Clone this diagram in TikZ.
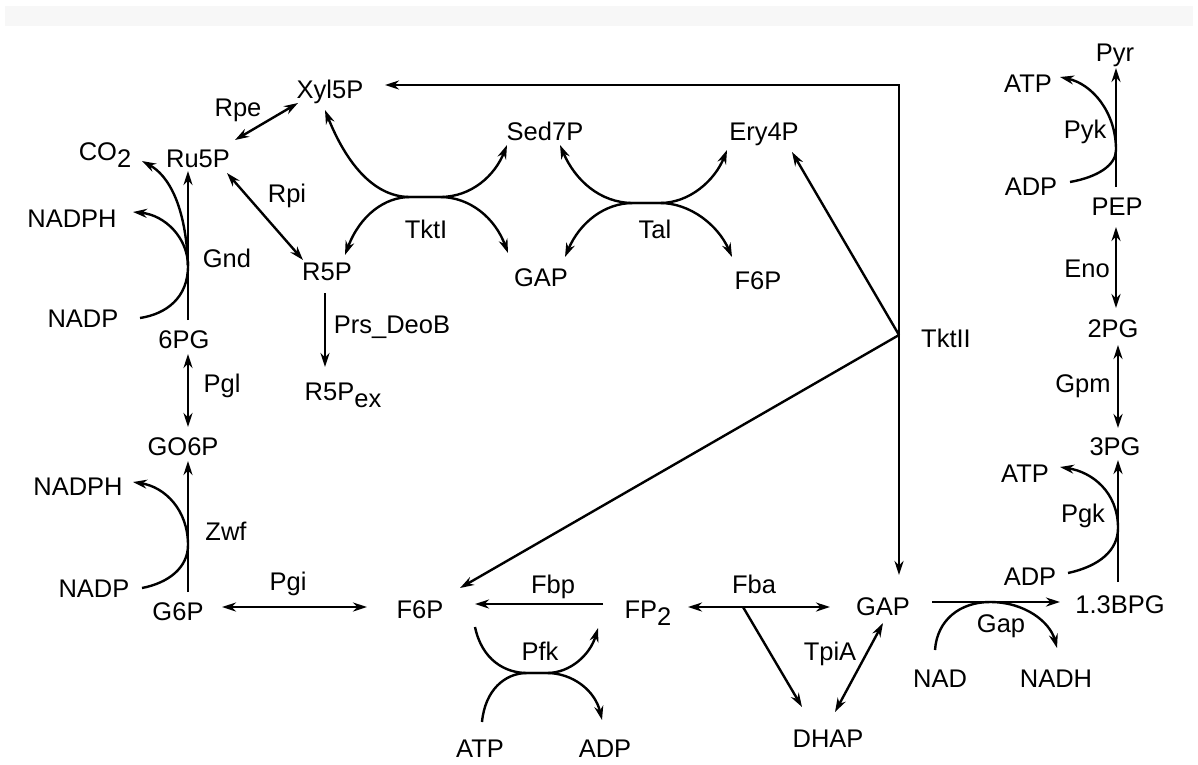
\documentclass[tikz,border=0pt]{standalone}
\usepackage{fontspec}
\setmainfont{Liberation Sans}
\usetikzlibrary{arrows.meta,calc}
\begin{document}
\begin{tikzpicture}[x=1pt,y=-1pt,
  lbl/.style={anchor=base,inner sep=0pt,font=\fontsize{25.5}{30}\selectfont},
  ln/.style={line width=2.4pt},
  ar/.style={ln,-{Stealth[length=14pt,width=9pt]}},
  da/.style={ln,{Stealth[length=14pt,width=9pt]}-{Stealth[length=14pt,width=9pt]}}]
\useasboundingbox (0,0) rectangle (1198,764);
\fill[black!3] (5,6) rectangle (1193,26);
% nodes
\node[lbl] (Xyl5P) at (330,98) {Xyl5P};
\node[lbl] (Sed7P) at (545,140) {Sed7P};
\node[lbl] (Ery4P) at (764,140) {Ery4P};
\node[lbl] (R5P) at (327,280) {R5P};
\node[lbl] (GAPt) at (541,286) {GAP};
\node[lbl] (F6Pt) at (758,289) {F6P};
\node[lbl] (TktI) at (426,238) {TktI};
\node[lbl] (Tal) at (655,238) {Tal};
\node[lbl] (Rpe) at (238,116) {Rpe};
\node[lbl] (Ru5P) at (198,167) {Ru5P};
\node[lbl] (CO2) at (105,160) {CO\raisebox{-7pt}{2}};
\node[lbl] (Rpi) at (287,202) {Rpi};
\node[lbl] (NADPHa) at (72,227) {NADPH};
\node[lbl] (Gnd) at (227,267) {Gnd};
\node[lbl] (NADPa) at (83,327) {NADP};
\node[lbl] (PG6) at (184,348) {6PG};
\node[lbl] (Pgl) at (222,392) {Pgl};
\node[lbl] (R5Pex) at (343,400) {R5P\raisebox{-7pt}{ex}};
\node[lbl] (Prs) at (392,333) {Prs\_DeoB};
\node[lbl] (GO6P) at (183,455) {GO6P};
\node[lbl] (NADPHb) at (78,495) {NADPH};
\node[lbl] (Zwf) at (226,540) {Zwf};
\node[lbl] (NADPb) at (94,597) {NADP};
\node[lbl] (G6P) at (178,620) {G6P};
\node[lbl] (Pgi) at (288,590) {Pgi};
\node[lbl] (F6P) at (420,618) {F6P};
\node[lbl] (Fbp) at (553,593) {Fbp};
\node[lbl] (FP2) at (648,618) {FP\raisebox{-7pt}{2}};
\node[lbl] (Pfk) at (540,660) {Pfk};
\node[lbl] (ATPb) at (480,757) {ATP};
\node[lbl] (ADPb) at (605,757) {ADP};
\node[lbl] (Fba) at (754,593) {Fba};
\node[lbl] (TpiA) at (830,660) {TpiA};
\node[lbl] (DHAP) at (828,747) {DHAP};
\node[lbl] (GAP) at (883,615) {GAP};
\node[lbl] (BPG) at (1120,613) {1.3BPG};
\node[lbl] (Gap) at (1001,632) {Gap};
\node[lbl] (NAD) at (940,687) {NAD};
\node[lbl] (NADH) at (1056,687) {NADH};
\node[lbl] (ADPk) at (1030,585) {ADP};
\node[lbl] (Pgk) at (1083,522) {Pgk};
\node[lbl] (ATPk) at (1025,482) {ATP};
\node[lbl] (PG3) at (1115,455) {3PG};
\node[lbl] (Gpm) at (1083,392) {Gpm};
\node[lbl] (PG2) at (1113,337) {2PG};
\node[lbl] (Eno) at (1087,277) {Eno};
\node[lbl] (PEP) at (1117,215) {PEP};
\node[lbl] (ADPy) at (1031,195) {ADP};
\node[lbl] (Pyk) at (1085,138) {Pyk};
\node[lbl] (ATPy) at (1028,92) {ATP};
\node[lbl] (Pyr) at (1115,61) {Pyr};
\node[lbl] (TktII) at (946,347) {TktII};
% junction coordinates
\coordinate (tkc) at (899,85);
\coordinate (tkj) at (899,335);
\coordinate (fbaj) at (743,607);
\coordinate (gndm) at (188,266);
\coordinate (zwfm) at (188,545);
\coordinate (pykm) at (1116,150);
\coordinate (pgkm) at (1118,528);
\coordinate (gapm) at (990,602);
\coordinate (pfka) at (527,673);
\coordinate (pfkb) at (547,673);
\coordinate (tka) at (410,197);
\coordinate (tkb) at (440,197);
\coordinate (tla) at (633,203);
\coordinate (tlb) at (660,203);
% straight connectors
\draw[da] ($(Ru5P.base)+(37,-27)$) -- ($(Xyl5P.base)+(-32,5)$);
\draw[da] ($(Ru5P.base)+(29,6)$) -- ($(R5P.base)+(-24,-20)$);
\draw[ar] ($(PG6.base)+(4,-28)$) -- ($(Ru5P.base)+(-10,4)$);
\draw[da] ($(PG6.base)+(4,6)$) -- ($(GO6P.base)+(5,-28)$);
\draw[ar] ($(G6P.base)+(10,-28)$) -- ($(GO6P.base)+(5,6)$);
\draw[da] ($(G6P.base)+(44,-13)$) -- ($(F6P.base)+(-53,-11)$);
\draw[ar] ($(FP2.base)+(-45,-14)$) -- ($(F6P.base)+(55,-14)$);
\draw[da] ($(FP2.base)+(40,-11)$) -- ($(GAP.base)+(-53,-8)$);
\draw[ar] (fbaj) -- ($(DHAP.base)+(-26,-40)$);
\draw[da] ($(GAP.base)+(0,8)$) -- ($(DHAP.base)+(7,-35)$);
\draw[ar] ($(GAP.base)+(49,-13)$) -- ($(BPG.base)+(-60,-11)$);
\draw[ar] ($(BPG.base)+(-2,-31)$) -- ($(PG3.base)+(3,5)$);
\draw[da] ($(PG2.base)+(5,8)$) -- ($(PG3.base)+(3,-27)$);
\draw[da] ($(PEP.base)+(-1,12)$) -- ($(PG2.base)+(3,-29)$);
\draw[ar] ($(PEP.base)+(-1,-28)$) -- ($(Pyr.base)+(1,7)$);
\draw[ar] ($(R5P.base)+(-2,13)$) -- ($(R5Pex.base)+(-18,-33)$);
\draw[da] ($(Xyl5P.base)+(55,-13)$) -- (tkc) -- ($(GAP.base)+(16,-40)$);
\draw[ar] (tkj) -- ($(Ery4P.base)+(28,12)$);
\draw[ar] (tkj) -- ($(F6P.base)+(40,-30)$);
% Gnd
\draw[ln] ($(NADPa.base)+(57,-9)$) .. controls (166,314) and (188,298) .. (gndm);
\draw[ar] (gndm) .. controls (188,238) and (165,215) .. ($(NADPHa.base)+(61,-15)$);
\draw[ar] (gndm) .. controls (186,205) and (168,175) .. ($(CO2.base)+(37,1)$);
% Zwf
\draw[ln] ($(NADPb.base)+(48,-9)$) .. controls (168,583) and (188,568) .. (zwfm);
\draw[ar] (zwfm) .. controls (188,510) and (165,487) .. ($(NADPHb.base)+(55,-13)$);
% Pyk
\draw[ln] ($(ADPy.base)+(39,-13)$) .. controls (1098,177) and (1116,165) .. (pykm);
\draw[ar] (pykm) .. controls (1116,112) and (1092,84) .. ($(ATPy.base)+(32,-15)$);
% Pgk
\draw[ln] ($(ADPk.base)+(38,-12)$) .. controls (1100,566) and (1118,550) .. (pgkm);
\draw[ar] (pgkm) .. controls (1118,492) and (1092,472) .. ($(ATPk.base)+(35,-15)$);
% Gap
\draw[ln] ($(NAD.base)+(-5,-37)$) .. controls (937,620) and (960,602) .. (gapm);
\draw[ar] (gapm) .. controls (1025,602) and (1050,622) .. ($(NADH.base)+(1,-39)$);
% Pfk
\draw[ar] ($(F6P.base)+(55,9)$) .. controls (482,660) and (505,673) .. (pfka) -- (pfkb) .. controls (570,673) and (590,655) .. ($(FP2.base)+(-50,10)$);
\draw[ar] ($(ATPb.base)+(2,-35)$) .. controls (485,690) and (505,673) .. (pfka) -- (pfkb) .. controls (572,673) and (595,690) .. ($(ADPb.base)+(-3,-37)$);
% TktI
\draw[da] ($(Xyl5P.base)+(-5,12)$) .. controls (345,160) and (372,197) .. (tka) -- (tkb) .. controls (472,197) and (495,175) .. ($(Sed7P.base)+(-38,5)$);
\draw[da] ($(R5P.base)+(18,-25)$) .. controls (360,215) and (385,197) .. (tka) -- (tkb) .. controls (470,197) and (495,218) .. ($(GAPt.base)+(-33,-33)$);
% Tal
\draw[da] ($(Sed7P.base)+(15,5)$) .. controls (575,180) and (600,203) .. (tla) -- (tlb) .. controls (690,203) and (715,180) .. ($(Ery4P.base)+(-37,10)$);
\draw[da] ($(GAPt.base)+(24,-29)$) .. controls (580,222) and (605,203) .. (tla) -- (tlb) .. controls (690,203) and (718,225) .. ($(F6Pt.base)+(-26,-32)$);
\end{tikzpicture}
\end{document}
